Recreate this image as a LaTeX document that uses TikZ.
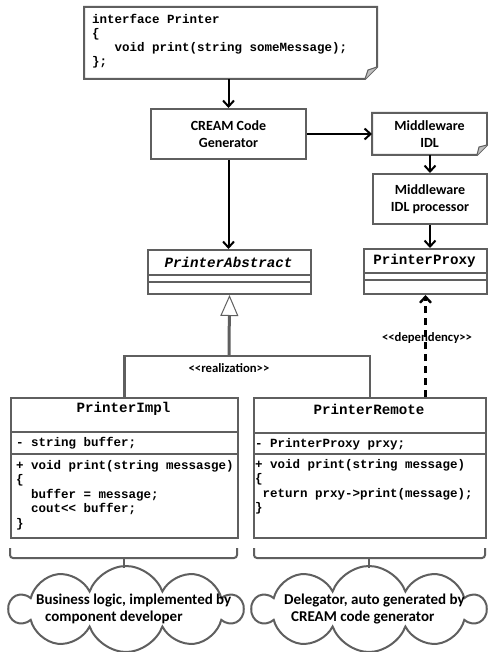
\documentclass[tikz,border=0pt]{standalone}
\usepackage{fontspec}
\setmainfont{Carlito}[Ligatures=TeXOff]
\newfontfamily\codefont{Liberation Mono}[Ligatures=TeXOff]
\usetikzlibrary{positioning,arrows.meta,shapes.symbols}
\definecolor{boxgray}{RGB}{95,95,95}
\tikzset{
  boxline/.style={draw=boxgray, line width=2pt},
  plainbox/.style={boxline, inner sep=0pt, anchor=north west, align=center, font=\bfseries\fontsize{14}{16.5}\selectfont},
  classbox/.style={boxline, inner sep=0pt, anchor=north west},
  classtitle/.style={inner sep=0pt, font=\codefont\bfseries\fontsize{14.2}{16}\selectfont},
  codetext/.style={inner sep=0pt, align=left, anchor=west, font=\codefont\bfseries\fontsize{12.5}{14.5}\selectfont},
  flowarrow/.style={draw=black, line width=2pt, -{Straight Barb[length=6pt,width=11pt]}},
  relline/.style={boxline, line width=2.2pt},
  depline/.style={draw=black, line width=2.4pt, dash pattern=on 7pt off 5pt, -{Straight Barb[length=6pt,width=11pt]}},
  stereo/.style={inner sep=0pt, font=\bfseries\fontsize{12.7}{14}\selectfont},
  remark/.style={cloud, cloud puffs=10, cloud puff arc=140, cloud ignores aspect, boxline, inner sep=0pt, minimum width=232pt, minimum height=86pt},
  remarktext/.style={inner sep=0pt, anchor=west, align=left, font=\bfseries\fontsize{15}{17.5}\selectfont},
  bracket/.style={boxline, rounded corners=3pt},
}
\begin{document}
\begin{tikzpicture}[x=1pt,y=-1pt]
\path[fill=white] (0,0) rectangle (487,652);
\useasboundingbox (0,0) rectangle (487,652);
% interface note
\node[classbox, draw=none, minimum width=291pt, minimum height=70pt] (iface) at (84,7) {};
\draw[boxline] (iface.north west) -- (iface.north east) -- ([yshift=12pt]iface.south east) -- ([xshift=-12pt]iface.south east) -- (iface.south west) -- cycle;
\draw[boxline, fill=boxgray!40, line width=1pt] ([yshift=12pt]iface.south east) -- ([xshift=-9pt,yshift=9pt]iface.south east) -- ([xshift=-12pt]iface.south east);
\node[codetext, font=\codefont\bfseries\fontsize{12.5}{14}\selectfont] (ifacecode) at (92,41) {interface Printer\\\{\\\hspace*{22.5pt}void print(string someMessage);\\\};};
% generators
\node[plainbox, minimum width=155pt, minimum height=50pt] (cream) at (150,108) {CREAM Code\\Generator};
\node[plainbox, draw=none, minimum width=113pt, minimum height=40pt] (idl) at (372,113) {Middleware\\IDL};
\draw[boxline] (idl.north west) -- (idl.north east) -- ([yshift=10pt]idl.south east) -- ([xshift=-10pt]idl.south east) -- (idl.south west) -- cycle;
\draw[boxline, fill=boxgray!40, line width=1pt] ([yshift=10pt]idl.south east) -- ([xshift=-8pt,yshift=8pt]idl.south east) -- ([xshift=-10pt]idl.south east);
\node[plainbox, minimum width=114pt, minimum height=50pt] (proc) at (372,173) {Middleware\\IDL processor};
% abstract and proxy classes
\node[classbox, minimum width=163pt, minimum height=44pt] (abstract) at (147,249) {};
\draw[boxline] (147,275) -- (310,275);
\draw[boxline] (147,282) -- (310,282);
\node[classtitle, font=\codefont\bfseries\itshape\fontsize{14.2}{16}\selectfont] (abstracttitle) at (228.5,262) {PrinterAbstract};
\node[classbox, minimum width=123pt, minimum height=45pt] (proxy) at (363,248) {};
\draw[boxline] (363,273) -- (486,273);
\draw[boxline] (363,280) -- (486,280);
\node[classtitle] (proxytitle) at (424.5,261) {PrinterProxy};
% implementation classes
\node[classbox, minimum width=227pt, minimum height=140pt] (impl) at (10,397) {};
\draw[boxline] (10,432) -- (237,432);
\draw[boxline] (10,454) -- (237,454);
\node[classtitle] (impltitle) at (123.5,409) {PrinterImpl};
\node[codetext] (implattr) at (16,443) {- string buffer;};
\node[codetext] (implops) at (16,495) {+ void print(string messasge)\\\{\\\hspace*{15pt}buffer = message;\\\hspace*{15pt}cout<< buffer;\\\}};
\node[classbox, minimum width=232pt, minimum height=140pt] (remote) at (253,397) {};
\draw[boxline] (253,433) -- (485,433);
\draw[boxline] (253,454) -- (485,454);
\node[classtitle] (remotetitle) at (369,409) {PrinterRemote};
\node[codetext] (remoteattr) at (255,444) {- PrinterProxy prxy;};
\node[codetext] (remoteops) at (255,487) {+ void print(string message)\\\{\\\hspace*{7.5pt}return prxy->print(message);\\\}};
% flow arrows
\draw[flowarrow] (cream.north |- iface.south) -- (cream.north);
\draw[flowarrow] (cream.east) -- (cream.east -| idl.west);
\draw[flowarrow] (cream.south) -- (cream.south |- abstract.north);
\draw[flowarrow] (proc.north |- idl.south) -- (proc.north);
\draw[flowarrow] (proc.south) -- (proc.south |- proxy.north);
% realization and dependency
\coordinate (realjoin) at (229,356);
\draw[relline] (impl.north) |- (realjoin) -| (remote.north);
\draw[relline, line width=3pt, -{Triangle[open, fill=white, length=21pt, width=18pt, line width=1pt]}] (realjoin) -- (abstract.south);
\node[stereo] (reallabel) at (229,368) {<<realization>>};
\draw[depline] (proxy.south |- remote.north) -- (proxy.south);
\node[stereo] (deplabel) at (427,338) {<<dependency>>};
% braces and notes
\draw[bracket] (10,548) -- (10,558) -- (237,558) -- (237,548);
\draw[bracket] (124,558) -- (124,568);
\draw[bracket] (254,548) -- (254,558) -- (485,558) -- (485,548);
\draw[bracket] (369,558) -- (369,568);
\node[remark] (implcloud) at (126,609) {};
\node[remarktext] (impltext) at (36,609) {Business logic, implemented by\\\hspace*{9pt}component developer};
\node[remark] (remotecloud) at (369,609) {};
\node[remarktext] (remotetext) at (284,609) {Delegator, auto generated by\\\hspace*{7pt}CREAM code generator};
\end{tikzpicture}
\end{document}
